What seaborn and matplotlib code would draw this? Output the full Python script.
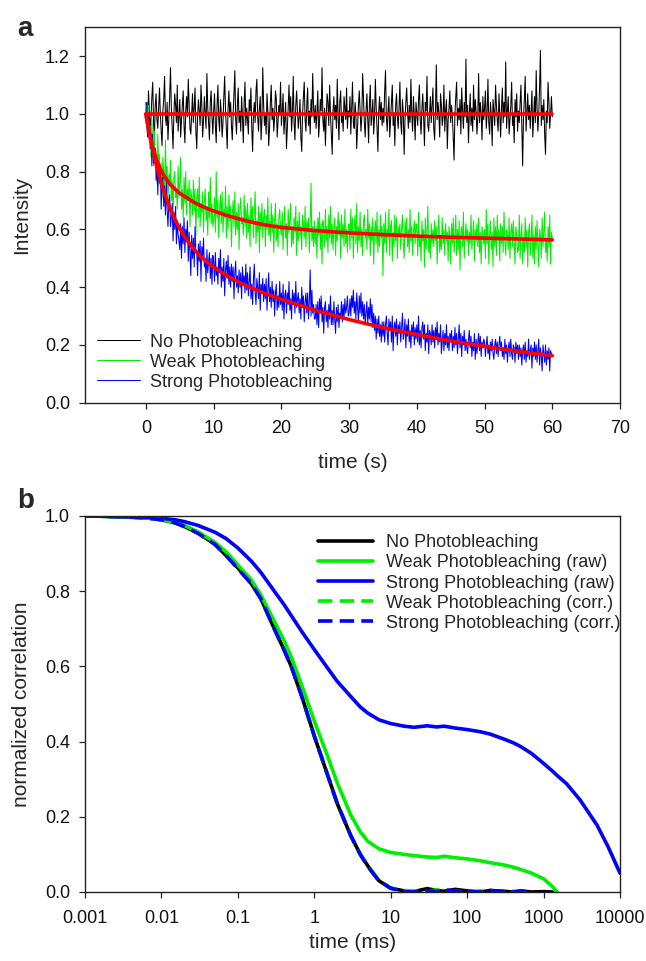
import numpy as np
import pandas as pd
import matplotlib
matplotlib.use("Agg")
import matplotlib.pyplot as plt
import seaborn as sns
from matplotlib.ticker import FixedLocator, FuncFormatter, NullLocator

sns.set_style("ticks")
plt.rcParams["font.family"] = ["Liberation Sans", "DejaVu Sans"]

# ---------------- Panel a data (intensity traces in hundredths, dt = 0.125 s) ----------------
DT_A = 0.125
trace_none = [
    100, 104, 96, 108, 101, 93, 99, 106, 111, 97, 92, 103, 107, 98, 95, 102, 109, 100, 94, 89,
    101, 105, 113, 99, 96, 104, 91, 98, 106, 116, 102, 95, 88, 100, 107, 103, 97, 110, 94, 99,
    105, 92, 98, 103, 108, 96, 90, 101, 106, 99, 112, 104, 95, 93, 100, 107, 97, 102, 109, 94,
    88, 99, 105, 101, 96, 110, 103, 92, 98, 106, 100, 95, 114, 102, 97, 91, 104, 108, 99, 93,
    101, 107, 96, 90, 103, 110, 98, 94, 105, 100, 92, 97, 106, 113, 101, 95, 88, 102, 108, 99,
    104, 96, 91, 100, 107, 115, 98, 93, 103, 109, 97, 101, 94, 106, 99, 90, 104, 111, 96, 102,
    98, 93, 105, 101, 109, 95, 87, 100, 104, 97, 108, 112, 99, 94, 102, 106, 91, 98, 116, 103,
    96, 100, 93, 107, 101, 89, 95, 104, 110, 98, 102, 94, 99, 108, 105, 92, 97, 103, 100, 111,
    96, 101, 107, 93, 98, 104, 88, 95, 102, 110, 99, 106, 94, 100, 113, 97, 91, 103, 108, 101,
    95, 99, 105, 92, 87, 100, 106, 111, 98, 94, 103, 109, 96, 101, 93, 105, 99, 114, 102, 97,
    103, 95, 100, 108, 92, 97, 105, 101, 116, 98, 94, 102, 89, 99, 107, 104, 96, 110, 100, 93,
    86, 101, 106, 98, 103, 95, 112, 99, 91, 104, 108, 97, 100, 94, 106, 102, 98, 109, 95, 101,
    99, 106, 93, 102, 111, 97, 95, 104, 100, 88, 96, 103, 108, 101, 94, 99, 114, 105, 97, 92,
    101, 107, 98, 90, 103, 110, 96, 100, 105, 93, 99, 112, 102, 95, 87, 101, 106, 98, 104, 96,
    102, 97, 108, 115, 99, 94, 101, 106, 92, 98, 104, 110, 96, 100, 89, 103, 107, 99, 95, 102,
    111, 97, 93, 105, 100, 86, 98, 104, 109, 101, 95, 103, 97, 112, 100, 94, 106, 99, 91, 104,
    100, 96, 105, 110, 98, 93, 102, 107, 99, 89, 104, 101, 113, 96, 94, 100, 106, 97, 103, 109,
    95, 91, 101, 117, 98, 104, 100, 92, 107, 103, 96, 99, 110, 94, 101, 105, 88, 98, 102, 108,
    97, 103, 99, 92, 84, 100, 106, 111, 96, 102, 98, 105, 93, 109, 101, 95, 104, 99, 119, 97,
    103, 90, 100, 107, 96, 102, 94, 110, 98, 105, 101, 93, 99, 114, 97, 104, 100, 91, 106, 98,
    102, 108, 95, 100, 112, 97, 93, 104, 99, 89, 105, 101, 96, 110, 103, 98, 94, 107, 100, 92,
    102, 109, 97, 104, 99, 118, 95, 101, 106, 93, 98, 103, 111, 96, 100, 90, 105, 99, 107, 94,
    101, 97, 104, 110, 96, 82, 99, 105, 113, 94, 100, 107, 98, 103, 95, 101, 108, 92, 99, 106,
    97, 115, 102, 94, 100, 109, 122, 96, 103, 98, 105, 93, 86, 101, 97, 111, 104, 95, 100, 106,
    99,
]
trace_weak = [
    100, 103, 93, 103, 91, 96, 85, 98, 89, 82, 94, 83, 87, 76, 93, 81, 86, 75, 83, 71,
    85, 80, 74, 91, 76, 82, 70, 79, 75, 84, 70, 77, 65, 78, 80, 71, 74, 67, 82, 71,
    76, 85, 67, 74, 64, 78, 69, 80, 65, 74, 70, 77, 61, 74, 71, 65, 77, 66, 74, 58,
    71, 74, 64, 78, 61, 69, 66, 73, 59, 70, 74, 63, 68, 58, 73, 64, 78, 62, 69, 61,
    63, 71, 59, 80, 64, 70, 57, 67, 72, 62, 73, 59, 67, 64, 75, 57, 68, 60, 72, 63,
    68, 54, 65, 70, 61, 73, 58, 66, 60, 69, 53, 67, 71, 62, 64, 58, 72, 61, 68, 57,
    69, 59, 65, 54, 71, 62, 68, 57, 66, 73, 55, 63, 59, 68, 52, 66, 60, 69, 57, 64,
    67, 54, 65, 60, 71, 58, 63, 56, 69, 59, 65, 52, 63, 69, 56, 62, 54, 64, 67, 60,
    58, 66, 53, 63, 68, 57, 62, 51, 67, 59, 63, 69, 54, 61, 55, 64, 59, 68, 51, 63,
    56, 66, 58, 61, 53, 65, 62, 57, 68, 54, 63, 59, 64, 52, 62, 76, 56, 61, 54, 63,
    55, 61, 50, 64, 58, 66, 53, 62, 48, 63, 60, 54, 67, 56, 61, 52, 65, 57, 68, 55,
    62, 53, 60, 64, 51, 61, 56, 66, 58, 63, 50, 65, 57, 62, 54, 67, 55, 60, 52, 61,
    62, 53, 67, 57, 64, 50, 60, 65, 55, 69, 52, 61, 56, 66, 54, 60, 51, 63, 65, 57,
    60, 53, 67, 57, 62, 51, 61, 56, 64, 48, 59, 63, 55, 66, 52, 60, 54, 65, 57, 61,
    44, 62, 55, 66, 52, 60, 57, 67, 51, 61, 63, 49, 59, 54, 65, 56, 64, 50, 61, 58,
    62, 53, 60, 65, 55, 50, 63, 57, 64, 54, 60, 52, 67, 56, 61, 51, 59, 63, 55, 62,
    61, 51, 66, 54, 58, 49, 63, 56, 60, 47, 64, 53, 59, 68, 52, 58, 50, 62, 55, 60,
    54, 63, 56, 61, 48, 59, 65, 52, 58, 53, 64, 55, 60, 51, 62, 56, 59, 49, 61, 58,
    48, 62, 55, 64, 52, 58, 65, 51, 60, 53, 63, 46, 59, 61, 54, 66, 50, 57, 62, 56,
    60, 51, 59, 55, 65, 53, 58, 63, 49, 60, 56, 62, 54, 64, 52, 59, 48, 61, 58, 55,
    60, 50, 67, 55, 62, 48, 58, 63, 53, 59, 47, 64, 54, 61, 51, 65, 56, 60, 49, 62,
    55, 61, 52, 66, 56, 51, 60, 58, 53, 64, 50, 59, 62, 54, 63, 55, 48, 61, 58, 52,
    53, 65, 50, 58, 62, 48, 57, 52, 64, 54, 60, 47, 59, 62, 51, 57, 65, 50, 58, 48,
    61, 53, 63, 55, 47, 60, 58, 50, 64, 54, 59, 66, 52, 57, 49, 61, 54, 65, 48, 59,
    57,
]
trace_strong = [
    104, 96, 92, 98, 100, 88, 93, 82, 93, 83, 86, 88, 77, 83, 72, 82, 76, 82, 67, 76,
    78, 68, 75, 65, 77, 67, 61, 69, 72, 61, 64, 69, 56, 66, 60, 68, 55, 63, 58, 56,
    53, 62, 50, 61, 55, 64, 52, 60, 57, 63, 49, 59, 52, 44, 58, 50, 57, 47, 61, 52,
    52, 44, 55, 49, 56, 42, 54, 50, 57, 47, 50, 42, 53, 45, 49, 52, 43, 50, 41, 51,
    49, 42, 52, 44, 47, 41, 50, 45, 53, 40, 47, 42, 50, 37, 46, 49, 43, 51, 41, 47,
    40, 48, 42, 47, 36, 45, 49, 40, 44, 38, 46, 40, 45, 36, 47, 41, 44, 38, 48, 39,
    45, 37, 42, 47, 36, 41, 34, 43, 48, 38, 34, 43, 40, 36, 45, 32, 41, 38, 43, 35,
    41, 36, 43, 32, 39, 45, 35, 40, 33, 42, 35, 39, 30, 38, 41, 32, 37, 33, 42, 34,
    38, 32, 41, 29, 37, 39, 31, 38, 34, 42, 32, 36, 29, 39, 34, 38, 31, 42, 33, 36,
    38, 31, 36, 29, 40, 33, 37, 28, 35, 38, 31, 38, 29, 35, 46, 30, 39, 31, 34, 29,
    29, 34, 27, 35, 26, 36, 31, 37, 28, 33, 24, 33, 35, 28, 32, 26, 34, 29, 37, 27,
    32, 27, 35, 29, 24, 33, 28, 34, 26, 31, 30, 35, 28, 34, 29, 36, 31, 33, 37, 30,
    31, 36, 30, 37, 33, 39, 31, 35, 29, 38, 33, 28, 37, 31, 38, 30, 35, 29, 34, 27,
    31, 35, 27, 33, 29, 36, 28, 34, 26, 31, 25, 30, 22, 29, 24, 30, 23, 27, 21, 28,
    23, 28, 21, 27, 30, 24, 20, 29, 25, 28, 21, 30, 18, 26, 28, 23, 29, 20, 27, 24,
    28, 21, 26, 31, 22, 24, 29, 19, 27, 23, 29, 21, 25, 19, 27, 23, 28, 20, 26, 22,
    27, 21, 30, 20, 25, 19, 26, 28, 22, 27, 18, 24, 21, 27, 17, 25, 24, 20, 27, 21,
    25, 19, 26, 22, 28, 20, 24, 21, 27, 17, 21, 25, 18, 24, 20, 27, 19, 23, 18, 24,
    22, 25, 18, 23, 19, 26, 20, 24, 17, 22, 27, 19, 24, 16, 23, 20, 25, 18, 22, 19,
    17, 22, 25, 19, 23, 16, 21, 18, 24, 15, 22, 17, 21, 24, 18, 23, 16, 21, 19, 22,
    21, 16, 20, 23, 17, 20, 15, 21, 18, 22, 17, 15, 20, 22, 17, 21, 16, 20, 23, 18,
    21, 16, 19, 15, 22, 17, 20, 14, 19, 21, 16, 22, 17, 15, 20, 19, 14, 21, 17, 20,
    15, 20, 16, 19, 13, 18, 20, 15, 21, 14, 18, 16, 22, 15, 18, 20, 12, 19, 16, 21,
    15, 20, 14, 18, 22, 13, 19, 16, 11, 20, 17, 14, 20, 13, 18, 15, 19, 11, 18, 17,
    16,
]

# fitted curves
fit_t = [0, 0.25, 0.5, 0.75, 1, 1.5, 2, 2.5, 3, 3.5, 4, 4.5, 5, 6, 7, 8, 9, 10, 12, 14,
         16, 18, 20, 25, 30, 35, 40, 45, 50, 55, 60]
fit_weak = [1.0, 0.964, 0.933, 0.906, 0.884, 0.846, 0.816, 0.793, 0.775, 0.758, 0.746,
            0.735, 0.725, 0.71, 0.695, 0.683, 0.673, 0.664, 0.648, 0.635, 0.623, 0.614,
            0.607, 0.596, 0.588, 0.582, 0.577, 0.573, 0.570, 0.567, 0.564]
fit_strong = [1.0, 0.966, 0.935, 0.905, 0.877, 0.826, 0.781, 0.742, 0.708, 0.677, 0.649,
              0.624, 0.603, 0.565, 0.534, 0.508, 0.487, 0.469, 0.439, 0.414, 0.393, 0.375,
              0.358, 0.320, 0.288, 0.260, 0.236, 0.214, 0.195, 0.178, 0.163]
fit_none_t = [0, 60]
fit_none = [1.0, 1.0]

labels_a = ["No Photobleaching", "Weak Photobleaching", "Strong Photobleaching"]

# ---------------- Panel b data (correlation curves) ----------------
tau = [0.001, 0.0015, 0.002, 0.003, 0.005, 0.007, 0.01, 0.015, 0.02, 0.03, 0.05, 0.07,
       0.1, 0.15, 0.2, 0.3, 0.4, 0.5, 0.7, 1, 1.5, 2, 3, 4, 5, 7, 10, 15, 20, 30, 40, 50,
       70, 100, 150, 200, 300, 400, 500, 700, 1000, 1300, 1500, 2000, 3000, 5000, 7000, 10000]
g_none = [1.0, 0.9995, 0.999, 0.998, 0.996, 0.994, 0.99, 0.982, 0.972, 0.955, 0.925, 0.895,
          0.862, 0.82, 0.78, 0.70, 0.645, 0.60, 0.515, 0.415, 0.31, 0.235, 0.15, 0.10, 0.07,
          0.03, 0.01, 0.003, 0.001, 0.009, 0.004, 0.002, 0.007, 0.003, 0.0, 0.004, 0.002,
          0.0, 0.003, 0.0, 0.001, 0.0]
g_weak_raw = [1.0, 0.9995, 0.999, 0.998, 0.996, 0.994, 0.99, 0.983, 0.975, 0.958, 0.93,
              0.905, 0.87, 0.83, 0.79, 0.72, 0.67, 0.625, 0.545, 0.455, 0.36, 0.29, 0.205,
              0.16, 0.135, 0.115, 0.105, 0.10, 0.097, 0.093, 0.092, 0.095, 0.091, 0.088,
              0.083, 0.078, 0.072, 0.066, 0.06, 0.05, 0.035, 0.015, 0.0]
g_strong_raw = [1.0, 0.9995, 0.999, 0.998, 0.997, 0.996, 0.994, 0.99, 0.985, 0.975, 0.957,
                0.94, 0.915, 0.88, 0.85, 0.80, 0.765, 0.735, 0.69, 0.645, 0.595, 0.56, 0.52,
                0.492, 0.476, 0.458, 0.448, 0.441, 0.438, 0.442, 0.439, 0.441, 0.436, 0.432,
                0.426, 0.42, 0.407, 0.397, 0.387, 0.368, 0.342, 0.322, 0.31, 0.288, 0.245,
                0.178, 0.12, 0.05]
g_weak_corr = [1.0, 0.9995, 0.999, 0.998, 0.996, 0.994, 0.99, 0.982, 0.972, 0.955, 0.925,
               0.895, 0.862, 0.82, 0.78, 0.70, 0.645, 0.60, 0.515, 0.415, 0.31, 0.235, 0.15,
               0.10, 0.07, 0.03, 0.01, 0.004, 0.002, 0.001, 0.006, 0.003, 0.002, 0.0, 0.003,
               0.001, 0.0, 0.002, 0.001, 0.0]
g_strong_corr = [1.0, 0.9995, 0.999, 0.998, 0.996, 0.994, 0.99, 0.982, 0.972, 0.954, 0.925,
                 0.895, 0.86, 0.82, 0.78, 0.70, 0.645, 0.60, 0.515, 0.415, 0.31, 0.235, 0.15,
                 0.10, 0.068, 0.03, 0.01, 0.001, 0.0, 0.003, 0.002, 0.006, 0.003, 0.001, 0.0,
                 0.004, 0.001, 0.0, 0.002, 0.0]
labels_b = ["No Photobleaching", "Weak Photobleaching (raw)", "Strong Photobleaching (raw)",
            "Weak Photobleaching (corr.)", "Strong Photobleaching (corr.)"]

BLACK, GREEN, BLUE, RED = "#000000", "#00ee00", "#0000ff", "#ff0000"
FS = 13
FS_LAB = 15

fig = plt.figure(figsize=(6.46, 9.61), dpi=100)
W, H = 646.0, 961.0
ax1 = fig.add_axes([85 / W, 1 - 402.7 / H, 535 / W, 375.4 / H])
ax2 = fig.add_axes([85 / W, 1 - 892 / H, 535 / W, 376 / H])

# ---- Panel a ----
for vals, col, lab in zip([trace_none, trace_weak, trace_strong], [BLACK, GREEN, BLUE], labels_a):
    t = np.arange(len(vals)) * DT_A
    sns.lineplot(x=t, y=np.array(vals) / 100.0, color=col, lw=0.75, label=lab, ax=ax1)
for ft, fv in [(fit_none_t, fit_none), (fit_t, fit_weak), (fit_t, fit_strong)]:
    sns.lineplot(x=ft, y=fv, color=RED, lw=2.6, ax=ax1, legend=False)

ax1.set_xlim(-9, 70)
ax1.set_ylim(0, 1.3)
ax1.xaxis.set_major_locator(FixedLocator([0, 10, 20, 30, 40, 50, 60, 70]))
ax1.yaxis.set_major_locator(FixedLocator([0, 0.2, 0.4, 0.6, 0.8, 1.0, 1.2]))
ax1.yaxis.set_major_formatter(FuncFormatter(lambda v, p: f"{v:.1f}"))
ax1.set_xlabel("time (s)", fontsize=FS_LAB)
ax1.set_ylabel("Intensity", fontsize=FS_LAB)
ax1.xaxis.set_label_coords(0.5, -0.134)
ax1.yaxis.set_label_coords(-0.1, 0.5)
h, l = ax1.get_legend_handles_labels()
ax1.legend(h[:3], l[:3], loc="upper left", bbox_to_anchor=(0.0224, 0.184),
           frameon=False, fontsize=FS, borderpad=0, borderaxespad=0,
           handlelength=2.38, handletextpad=0.55, labelspacing=0.17)

# ---- Panel b ----
series_b = [g_none, g_weak_raw, g_strong_raw, g_weak_corr, g_strong_corr]
cols_b = [BLACK, GREEN, BLUE, GREEN, BLUE]
dashed_b = [False, False, False, True, True]
for vals, col, dsh, lab in zip(series_b, cols_b, dashed_b, labels_b):
    sns.lineplot(x=tau[:len(vals)], y=vals, color=col, lw=2.6, label=lab, ax=ax2)
    if dsh:
        ax2.lines[-1].set_dashes((4, 2))

ax2.set_xscale("log")
ax2.set_xlim(0.001, 10000)
ax2.set_ylim(0, 1.0)
ax2.xaxis.set_major_locator(FixedLocator([0.001, 0.01, 0.1, 1, 10, 100, 1000, 10000]))
ax2.xaxis.set_minor_locator(NullLocator())
ax2.xaxis.set_major_formatter(FuncFormatter(lambda v, p: f"{v:g}"))
ax2.yaxis.set_major_locator(FixedLocator([0, 0.2, 0.4, 0.6, 0.8, 1.0]))
ax2.yaxis.set_major_formatter(FuncFormatter(lambda v, p: f"{v:.1f}"))
ax2.set_xlabel("time (ms)", fontsize=FS_LAB)
ax2.set_ylabel("normalized correlation", fontsize=FS_LAB)
ax2.xaxis.set_label_coords(0.5, -0.108)
ax2.yaxis.set_label_coords(-0.1, 0.5)
h, l = ax2.get_legend_handles_labels()
ax2.legend(h[:5], l[:5], loc="upper left", bbox_to_anchor=(0.4355, 0.951),
           frameon=False, fontsize=FS, borderpad=0, borderaxespad=0,
           handlelength=3.05, handletextpad=0.72, labelspacing=0.17)

for ax in (ax1, ax2):
    for sp in ax.spines.values():
        sp.set_visible(True)
        sp.set_linewidth(1.0)
        sp.set_color("#222222")
    ax.tick_params(axis="both", which="major", direction="out", length=4.3, width=0.9,
                   color="#222222", labelsize=FS, labelcolor="#111111")
    ax.tick_params(axis="x", pad=8.4)
    ax.tick_params(axis="y", pad=6.5)
    ax.tick_params(top=False, right=False)

fig.text(17 / W, 1 - 36 / H, "a", fontsize=20, fontweight="bold", ha="left", va="baseline")
fig.text(17 / W, 1 - 508 / H, "b", fontsize=20, fontweight="bold", ha="left", va="baseline")

fig.savefig("out.png", dpi=100)
